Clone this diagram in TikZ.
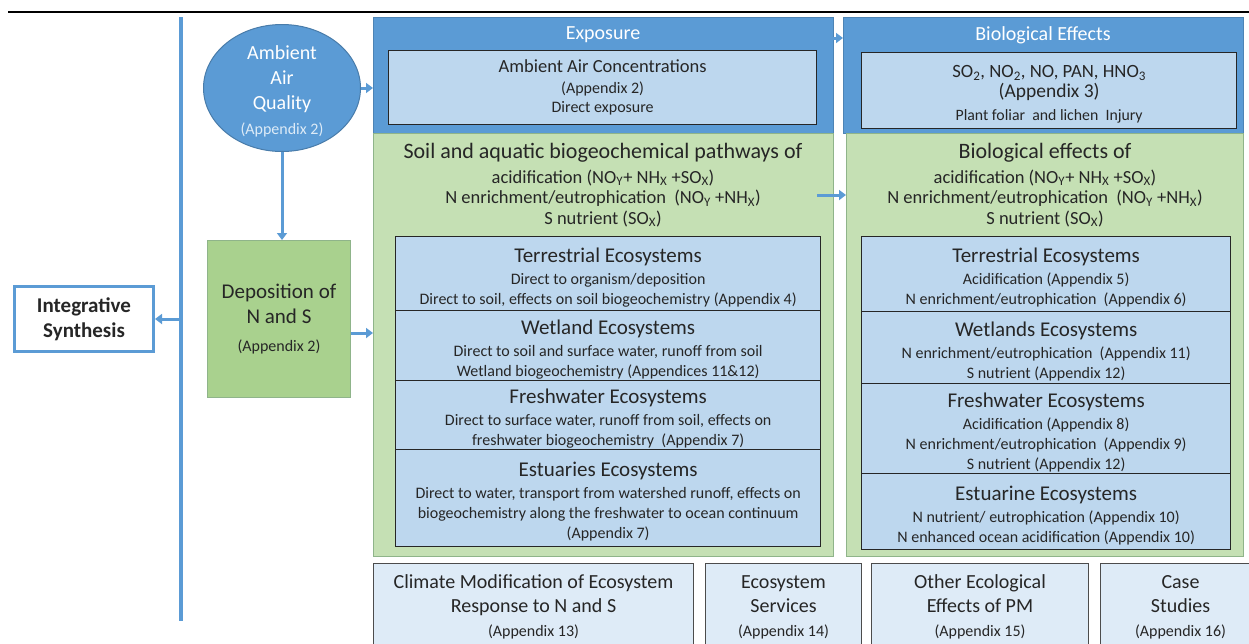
\documentclass[tikz,border=0pt]{standalone}
\usepackage{fontspec}
\setmainfont{Carlito}
\usetikzlibrary{arrows.meta,shapes.geometric}

\definecolor{panelblue}{HTML}{5B9BD5}
\definecolor{cellblue}{HTML}{BDD7EE}
\definecolor{paleblue}{HTML}{DEEBF7}
\definecolor{leafgreen}{HTML}{A9D18E}
\definecolor{mossgreen}{HTML}{C5E0B4}
\definecolor{greenline}{HTML}{8FB48A}
\definecolor{inkgray}{HTML}{262626}
\definecolor{mistblue}{HTML}{DDEBF7}

\newcommand{\fsz}[2]{\fontsize{#1}{#2}\selectfont}
\newcommand{\ecotitle}[1]{{\fsz{21}{20}\rule{0pt}{22pt}#1}\\[2pt]}
\newcommand{\basetitle}[1]{{\fsz{20}{24}#1}}

\tikzset{
  bluepanel/.style={draw=panelblue!85!black, fill=panelblue, line width=0.8pt, anchor=north west, inner sep=0pt},
  greenpanel/.style={draw=greenline, fill=mossgreen, line width=1pt, anchor=north west, inner sep=0pt},
  cell/.style={draw=inkgray, fill=cellblue, line width=1.3pt, anchor=north west, inner sep=0pt, align=center, text=inkgray},
  ecocell/.style={cell, font=\fsz{16}{20}},
  basebox/.style={draw=black!70, fill=paleblue, line width=1pt, anchor=north west, inner sep=0pt, align=center, text=inkgray, font=\fsz{16}{24}},
  paneltitle/.style={text=white, font=\fsz{20}{24}},
  headtext/.style={align=center, text=inkgray, font=\fsz{18.5}{20.5}},
  flow/.style={draw=panelblue, line width=3pt, -{Triangle[length=7pt,width=10pt]}},
  spine/.style={draw=panelblue, line width=3.5pt}
}

\begin{document}
\begin{tikzpicture}[x=1pt,y=-1pt]
\useasboundingbox (0,0) rectangle (1249,643);
\clip (0,0) rectangle (1249,643);

% top rule
\draw[line width=2.5pt] (8,12) -- (1249,12);

% left spine and synthesis
\coordinate (spinetop) at (181,17);
\coordinate (spinebot) at (181,621);
\draw[spine] (spinetop) -- (spinebot);
\node[draw=panelblue, fill=white, line width=3pt, anchor=north west, inner sep=0pt,
  minimum width=139pt, minimum height=65pt, align=center, text=inkgray,
  font=\fsz{21}{25}\bfseries] (synth) at (13,285) {Integrative\\Synthesis};

% air quality and deposition
\node[ellipse, draw=panelblue!80!black, fill=panelblue, line width=1pt,
  minimum width=157pt, minimum height=127pt, inner sep=0pt] (air) at (282,88) {};
\node[align=center, text=white, font=\fsz{20}{25}] (airtext) at ([yshift=-3pt]air.center)
  {Ambient\\Air\\Quality\\{\fsz{16}{25}\color{mistblue}(Appendix 2)}};
\node[draw=greenline, fill=leafgreen, line width=1pt, anchor=north west, inner sep=0pt,
  minimum width=143pt, minimum height=157pt, align=center, text=inkgray,
  font=\fsz{21}{25}] (depo) at (207,240)
  {Deposition of\\N and S\\[3pt]{\fsz{16}{25}(Appendix 2)}};

% exposure panel
\node[bluepanel, minimum width=460pt, minimum height=116pt] (expo) at (373,17) {};
\node[paneltitle] (expotitle) at (603,35) {Exposure};
\node[cell, minimum width=428pt, minimum height=74pt, font=\fsz{16}{19}] (expocell) at (388,50)
  {{\fsz{18.5}{19}Ambient Air Concentrations}\\[2pt](Appendix 2)\\Direct exposure};

% biological effects panel
\node[bluepanel, minimum width=400pt, minimum height=116pt] (bioeff) at (843,17) {};
\node[paneltitle] (biotitle) at (1043,35) {Biological Effects};
\node[cell, minimum width=375pt, minimum height=76pt, font=\fsz{18.7}{20}] (biocell) at (861,52)
  {\rule{0pt}{20pt}SO\textsubscript{2}, NO\textsubscript{2}, NO, PAN, HNO\textsubscript{3}\\
   {\fsz{19.5}{20}(Appendix 3)}\\[3pt]{\fsz{15.8}{20}Plant foliar\ \ and lichen\ \ Injury}};

% pathways panel
\node[greenpanel, minimum width=460pt, minimum height=423pt] (soilL) at (373,133) {};
\node[headtext] (soilhead) at (603,185)
  {{\fsz{22}{20.5}Soil and aquatic biogeochemical pathways of}\\[4pt]
   acidification (NO\textsubscript{Y}+ NH\textsubscript{X} +SO\textsubscript{X})\\
   N enrichment/eutrophication\ \ (NO\textsubscript{Y} +NH\textsubscript{X})\\
   S nutrient (SO\textsubscript{X})};
\node[ecocell, minimum width=425pt, minimum height=74pt] (terrL) at (395,236)
  {\ecotitle{Terrestrial Ecosystems}Direct to organism/deposition\\
   Direct to soil, effects on soil biogeochemistry (Appendix 4)};
\node[ecocell, minimum width=425pt, minimum height=70pt] (wetL) at (395,310)
  {\ecotitle{Wetland Ecosystems}Direct to soil and surface water, runoff from soil\\
   Wetland biogeochemistry (Appendices 11\&12)};
\node[ecocell, minimum width=425pt, minimum height=69pt] (freshL) at (395,380)
  {\ecotitle{Freshwater Ecosystems}Direct to surface water, runoff from soil, effects on\\
   freshwater biogeochemistry\ \ (Appendix 7)};
\node[ecocell, minimum width=425pt, minimum height=97pt] (estuL) at (395,449)
  {\ecotitle{Estuaries Ecosystems}Direct to water, transport from watershed runoff, effects on\\
   biogeochemistry along the freshwater to ocean continuum\\(Appendix 7)};

% biological effects of deposition panel
\node[greenpanel, minimum width=397pt, minimum height=423pt] (soilR) at (846,133) {};
\node[headtext] (biohead) at (1045,185)
  {{\fsz{22}{20.5}Biological effects of}\\[4pt]
   acidification (NO\textsubscript{Y}+ NH\textsubscript{X} +SO\textsubscript{X})\\
   N enrichment/eutrophication\ \ (NO\textsubscript{Y} +NH\textsubscript{X})\\
   S nutrient (SO\textsubscript{X})};
\node[ecocell, minimum width=369pt, minimum height=75pt] (terrR) at (861,236)
  {\ecotitle{Terrestrial Ecosystems}Acidification (Appendix 5)\\
   N enrichment/eutrophication\ \ (Appendix 6)};
\node[ecocell, minimum width=369pt, minimum height=72pt] (wetR) at (861,311)
  {\ecotitle{Wetlands Ecosystems}N enrichment/eutrophication\ \ (Appendix 11)\\
   S nutrient (Appendix 12)};
\node[ecocell, minimum width=369pt, minimum height=90pt] (freshR) at (861,383)
  {\ecotitle{Freshwater Ecosystems}Acidification (Appendix 8)\\
   N enrichment/eutrophication\ \ (Appendix 9)\\S nutrient (Appendix 12)};
\node[ecocell, minimum width=369pt, minimum height=76pt] (estuR) at (861,473)
  {\ecotitle{Estuarine Ecosystems}N nutrient/ eutrophication (Appendix 10)\\
   N enhanced ocean acidification (Appendix 10)};

% bottom row
\node[basebox, minimum width=320pt, minimum height=87pt] (climate) at (373,563)
  {\basetitle{Climate Modification of Ecosystem}\\\basetitle{Response to N and S}\\(Appendix 13)};
\node[basebox, minimum width=156pt, minimum height=87pt] (services) at (705,563)
  {\basetitle{Ecosystem}\\\basetitle{Services}\\(Appendix 14)};
\node[basebox, minimum width=217pt, minimum height=87pt] (otherpm) at (871,563)
  {\basetitle{Other Ecological}\\\basetitle{Effects of PM}\\(Appendix 15)};
\node[basebox, minimum width=160pt, minimum height=87pt] (cases) at (1100,563)
  {\basetitle{Case}\\\basetitle{Studies}\\(Appendix 16)};

% connectors
\coordinate (expoout) at (820,38);
\coordinate (soilout) at (817,195);
\draw[flow] (air.east) -- (air.east -| expo.west);
\draw[flow] (air.south) -- (air.south |- depo.north);
\draw[flow] ([yshift=-14pt]depo.east) -- ([yshift=-14pt]depo.east -| soilL.west);
\draw[flow] (expoout) -- (expoout -| bioeff.west);
\draw[flow] (soilout) -- (soilout -| soilR.west);
\draw[flow] (spinetop |- synth.east) -- (synth.east);
\end{tikzpicture}
\end{document}
